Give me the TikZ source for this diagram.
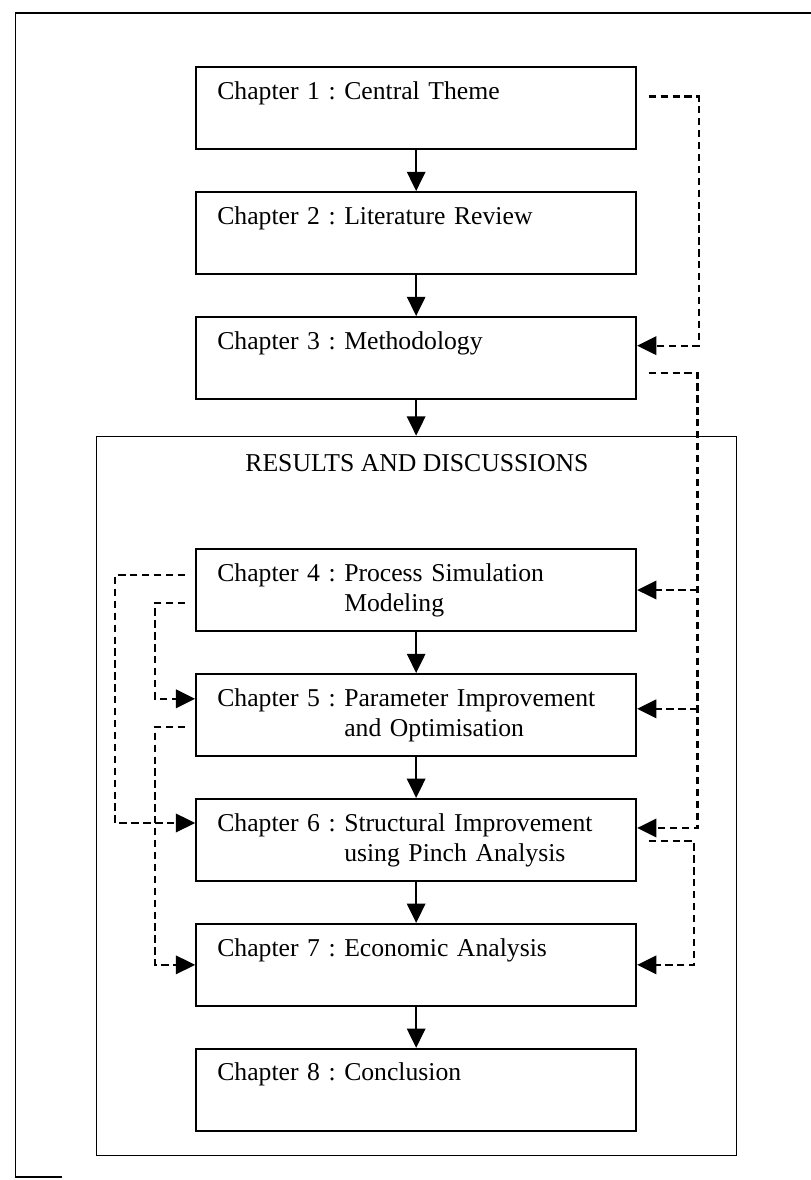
\documentclass[tikz,border=0pt]{standalone}
\usepackage{fontspec}
\setmainfont{Liberation Serif}
\usetikzlibrary{positioning,arrows.meta}

\frenchspacing
\newcommand{\chaptext}[3]{Chapter #1 : #2\\\phantom{Chapter #1 : }#3}

\begin{document}
\begin{tikzpicture}[node distance=1.066cm,
    font=\fontsize{19}{22.2}\selectfont,
    chapbox/.style={draw,line width=1.5pt,minimum width=11.44cm,minimum height=2.13cm,
                    text width=10.34cm,inner xsep=0.55cm,align=left},
    flow/.style={-{Triangle[length=0.5cm,width=0.48cm]},line width=1.2pt},
    link/.style={flow,line width=1.6pt,dash pattern=on 0.19cm off 0.12cm}]

    \useasboundingbox (0,0) rectangle (21.086,-30.68);

    % page frame
    \draw[line width=0.9pt] (21.086,-0.34) -- (0.40,-0.34) -- (0.40,-30.6) -- (1.6,-30.6);

    % chapters
    \node[chapbox] (ch1) at (10.82,-2.81) {\chaptext{1}{Central Theme}{}};
    \node[chapbox] (ch2) [below=of ch1] {\chaptext{2}{Literature Review}{}};
    \node[chapbox] (ch3) [below=of ch2] {\chaptext{3}{Methodology}{}};

    \node[draw,line width=0.7pt,minimum width=16.64cm,minimum height=18.69cm] (results) at (10.84,-20.685) {};
    \node[inner sep=0pt] (restitle) [below=0.47cm of results.north] {RESULTS AND DISCUSSIONS};

    \node[chapbox] (ch4) [below=3.85cm of ch3] {\chaptext{4}{Process Simulation}{Modeling}};
    \node[chapbox] (ch5) [below=of ch4] {\chaptext{5}{Parameter Improvement}{and Optimisation}};
    \node[chapbox] (ch6) [below=of ch5] {\chaptext{6}{Structural Improvement}{using Pinch Analysis}};
    \node[chapbox] (ch7) [below=of ch6] {\chaptext{7}{Economic Analysis}{}};
    \node[chapbox] (ch8) [below=of ch7] {\chaptext{8}{Conclusion}{}};

    % main flow
    \draw[flow] (ch1) -- (ch2);
    \draw[flow] (ch2) -- (ch3);
    \draw[flow] (ch3.south) -- (ch3.south |- results.north);
    \draw[flow] (ch4) -- (ch5);
    \draw[flow] (ch5) -- (ch6);
    \draw[flow] (ch6) -- (ch7);
    \draw[flow] (ch7) -- (ch8);

    % right side links
    \draw[link] ([xshift=3mm,yshift=3mm]ch1.east) -- ++(1.3,0) |- ([yshift=3.2mm]ch3.east);
    \draw[link] ([xshift=3mm,yshift=-3.8mm]ch3.east) -- ++(1.27,0) coordinate (rbus)
        |- ([yshift=3.1mm]ch6.east);
    \draw[link] (rbus |- ch4.east) -- (ch4.east);
    \coordinate (in5) at ([yshift=1.6mm]ch5.east);
    \draw[link] (rbus |- in5) -- (in5);
    \draw[link] ([xshift=3mm,yshift=-0.3mm]ch6.east) -- ++(1.18,0) |- (ch7.east);

    % left side links
    \draw[link] ([xshift=-2.6mm,yshift=3.8mm]ch4.west) -- ++(-1.82,0) |- ([yshift=4.4mm]ch6.west);
    \draw[link] ([xshift=-2.6mm,yshift=-3.3mm]ch4.west) -- ++(-0.78,0) |- ([yshift=4.2mm]ch5.west);
    \draw[link] ([xshift=-2.6mm,yshift=-3.1mm]ch5.west) -- ++(-0.78,0) |- (ch7.west);

\end{tikzpicture}
\end{document}
